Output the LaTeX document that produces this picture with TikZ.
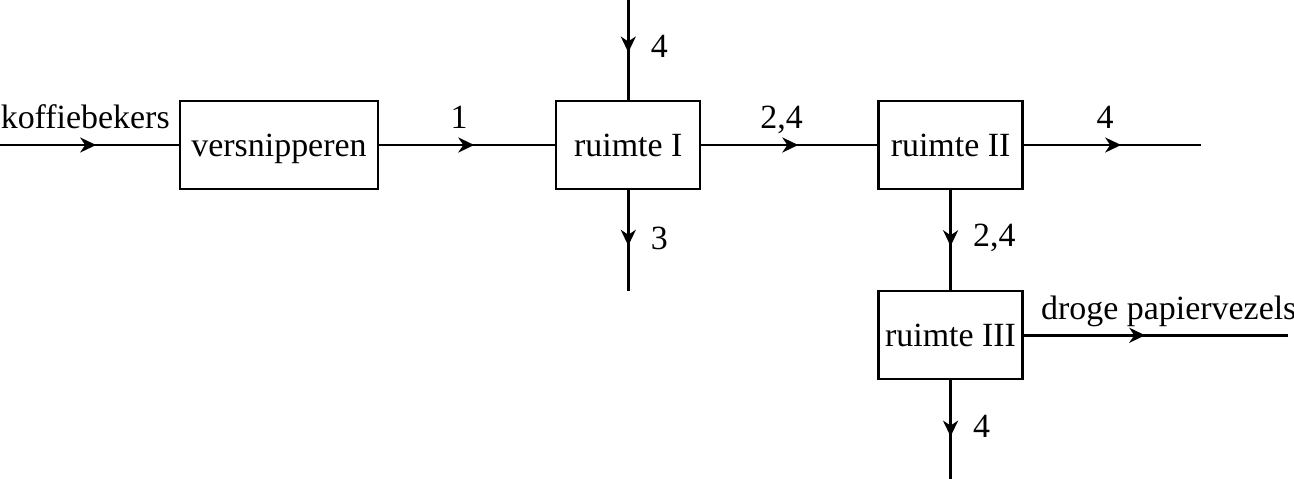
\documentclass[tikz,border=0pt]{standalone}
\usepackage{fontspec}
\setmainfont{Liberation Serif}
\usepackage{tikz}
\usetikzlibrary{positioning, arrows.meta, decorations.markings}
\newcommand{\flowfont}{\fontsize{19.3}{23}\selectfont}

\begin{document}
\begin{tikzpicture}[
  node distance=2cm and 3.52cm,
  stepBox/.style={draw, line width=1.3pt, minimum width=2.88cm, minimum height=1.76cm, inner sep=2pt, text depth=0pt, align=center, font=\flowfont},
  flow/.style={line width=1.7pt, postaction={decorate}, decoration={markings, mark=at position #1 with {\arrow{Stealth[length=9pt, width=8.5pt, inset=2.8pt]}}}},
  flow/.default=0.55,
  hLabel/.style={above=8.5pt, inner sep=0pt, text depth=0pt, font=\flowfont},
  vLabel/.style={right=0.42cm, inner sep=0pt, text depth=0pt, font=\flowfont}
]
\useasboundingbox (0,0) rectangle (25.88,-9.58);

% Process steps
\node[stepBox, minimum width=3.96cm] (versnip) at (5.58,-2.9) {versnipperen};
\node[stepBox, right=of versnip] (ruimteI) {ruimte I};
\node[stepBox, right=of ruimteI] (ruimteII) {ruimte II};
\node[stepBox, below=of ruimteII] (ruimteIII) {ruimte III};

% Free ends of the streams
\coordinate[left=3.6cm of versnip] (cupsIn);
\coordinate[above=2.02cm of ruimteI] (topIn);
\coordinate[below=2.02cm of ruimteI] (waterOut);
\coordinate[right=3.54cm of ruimteII] (rightOut);
\coordinate[right=5.28cm of ruimteIII] (fibreOut);
\coordinate[below=2.04cm of ruimteIII] (bottomOut);

% Streams
\draw[flow=0.54] (cupsIn) -- node[hLabel, pos=0.48] {koffiebekers} (versnip);
\draw[flow=0.54] (versnip) -- node[hLabel, pos=0.455] {1} (ruimteI);
\draw[flow=0.53] (topIn) -- node[vLabel, pos=0.47] {4} (ruimteI);
\draw[flow] (ruimteI) -- node[vLabel, pos=0.48] {3} (waterOut);
\draw[flow] (ruimteI) -- node[hLabel, pos=0.455] {2,4} (ruimteII);
\draw[flow] (ruimteII) -- node[hLabel, pos=0.46] {4} (rightOut);
\draw[flow=0.56] (ruimteII) -- node[vLabel, pos=0.45] {2,4} (ruimteIII);
\draw[flow=0.46] (ruimteIII) -- node[pos=0, anchor=base west, inner sep=0pt, xshift=0.32cm, yshift=0.32cm, font=\flowfont] {droge papiervezels} (fibreOut);
\draw[flow] (ruimteIII) -- node[vLabel, pos=0.45] {4} (bottomOut);

\end{tikzpicture}
\end{document}
